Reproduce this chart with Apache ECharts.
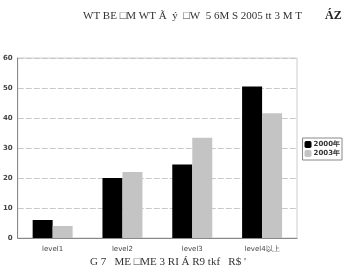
<!DOCTYPE html>
<html>
<head>
  <meta charset="utf-8">
  <script src="https://cdn.jsdelivr.net/npm/echarts@6/dist/echarts.min.js"></script>
  <style>body{margin:0;background:#fff}</style>
</head>
<body>
  <div id="main" style="width: 347px; height: 271px;"></div>
  <script>
    const categories = ['level1', 'level2', 'level3', 'level4以上'];
    const values2000 = [6, 20, 24.5, 50.5];
    const values2003 = [4, 22, 33.4, 41.6];
    const yTicks = [0, 10, 20, 30, 40, 50, 60];

    const chart = echarts.init(document.getElementById('main'));
    chart.setOption({
      animation: false,
      textStyle: { fontFamily: 'DejaVu Sans' },
      graphic: [
        { type: 'text', left: 83, top: 11,
          style: { text: 'WT BE □M WT Ã  ý  □W  5 6M S 2005 tt 3 M T', font: '11px "Liberation Serif"', fill: '#333' } },
        { type: 'text', left: 325, top: 10,
          style: { text: 'ÁZ', font: 'bold 12px "Liberation Serif"', fill: '#222' } },
        { type: 'text', left: 90, top: 257,
          style: { text: 'G 7   ME □ME 3 RI Á R9 tkf   R$ \'', font: '11px "Liberation Serif"', fill: '#333' } }
      ],
      grid: { left: 17, right: 50, top: 58, bottom: 33, show: true, borderColor: '#ccc', borderWidth: 1 },
      legend: {
        right: 5, top: 138, orient: 'vertical',
        itemWidth: 7, itemHeight: 7, itemGap: 2,
        borderColor: '#888', borderWidth: 1, padding: [3, 2],
        textStyle: { fontSize: 7, color: '#333', fontWeight: 'bold', padding: [0, 0, 0, -3] },
        data: ['2000年', '2003年']
      },
      xAxis: {
        type: 'category', data: categories,
        axisLine: { lineStyle: { color: '#888' } },
        axisTick: { show: false },
        axisLabel: { fontSize: 7, color: '#444', margin: 8 }
      },
      yAxis: {
        type: 'value', min: yTicks[0], max: yTicks[yTicks.length - 1], interval: 10,
        axisLine: { show: true, lineStyle: { color: '#888' } },
        axisTick: { show: false },
        axisLabel: { fontSize: 7, color: '#444', fontWeight: 'bold', margin: 5 },
        splitLine: { lineStyle: { color: '#c8c8c8', type: [6, 2] } }
      },
      series: [
        { name: '2000年', type: 'bar', data: values2000, barWidth: 20, barGap: '0%',
          itemStyle: { color: '#000' } },
        { name: '2003年', type: 'bar', data: values2003, barWidth: 20,
          itemStyle: { color: '#c4c4c4' } }
      ]
    });
  </script>
</body>
</html>
